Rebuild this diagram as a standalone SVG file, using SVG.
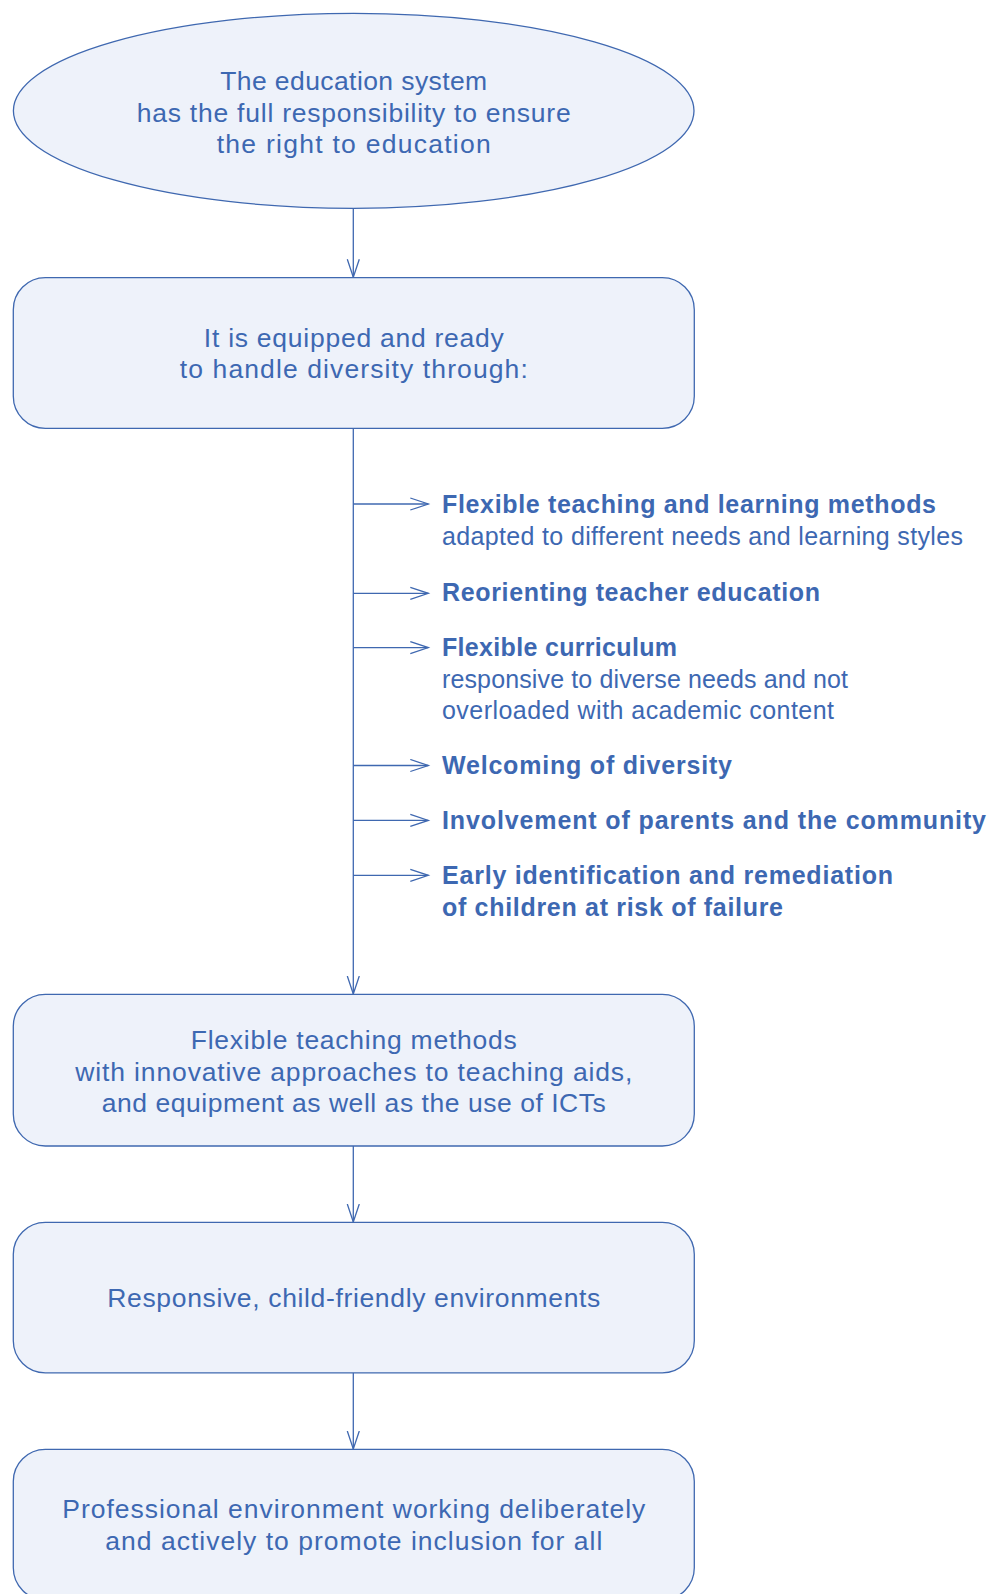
<svg xmlns="http://www.w3.org/2000/svg" width="991" height="1594" viewBox="0 0 991 1594">
<defs>
<style>
.node{fill:#eef2fa;stroke:#3f68b0;stroke-width:1.3}
.t{font-family:"Liberation Sans","Noto Sans",Arial,sans-serif;font-size:25px;fill:#3d68b2}
.c{text-anchor:middle;font-size:26.5px}
.b{font-weight:700}
.l{font-weight:300}
.conn{stroke:#3f68b0;stroke-width:1.3;fill:none}
</style>
<marker id="arr" markerUnits="userSpaceOnUse" markerWidth="22" markerHeight="16" refX="18" refY="7" orient="auto" viewBox="0 0 22 16">
<path d="M0,1 L18,7 L0,13" fill="none" stroke="#3f68b0" stroke-width="1.3"/>
</marker>
</defs>
<rect width="991" height="1594" fill="#ffffff"/>

<g id="connectors">
<line class="conn" x1="353.3" y1="208.3" x2="353.3" y2="277.3" marker-end="url(#arr)"/>
<line class="conn" x1="353.3" y1="428.3" x2="353.3" y2="994" marker-end="url(#arr)"/>
<line class="conn" x1="353.3" y1="1146" x2="353.3" y2="1222" marker-end="url(#arr)"/>
<line class="conn" x1="353.3" y1="1372.8" x2="353.3" y2="1449" marker-end="url(#arr)"/>
<line class="conn" x1="353.3" y1="504" x2="428.3" y2="504" marker-end="url(#arr)"/>
<line class="conn" x1="353.3" y1="593.3" x2="428.3" y2="593.3" marker-end="url(#arr)"/>
<line class="conn" x1="353.3" y1="647.6" x2="428.3" y2="647.6" marker-end="url(#arr)"/>
<line class="conn" x1="353.3" y1="765.5" x2="428.3" y2="765.5" marker-end="url(#arr)"/>
<line class="conn" x1="353.3" y1="820.4" x2="428.3" y2="820.4" marker-end="url(#arr)"/>
<line class="conn" x1="353.3" y1="875.3" x2="428.3" y2="875.3" marker-end="url(#arr)"/>
</g>

<g id="node-system">
<ellipse class="node" cx="353.7" cy="110.8" rx="340.3" ry="97.5"/>
<text class="t c" x="353.7" y="90" textLength="267">The education system</text>
<text class="t c" x="353.7" y="121.7" textLength="434">has the full responsibility to ensure</text>
<text class="t c" x="353.7" y="153.3" textLength="274">the right to education</text>
</g>

<g id="node-equipped">
<rect class="node" x="13.3" y="277.7" width="681" height="150.6" rx="32" ry="32"/>
<text class="t c" x="353.8" y="346.7" textLength="300">It is equipped and ready</text>
<text class="t c" x="353.8" y="378.3" textLength="348">to handle diversity through:</text>
</g>

<g id="node-list">
<text class="t b" x="442" y="513" textLength="494">Flexible teaching and learning methods</text>
<text class="t l" x="442" y="545" textLength="521">adapted to different needs and learning styles</text>
<text class="t b" x="442" y="601" textLength="378">Reorienting teacher education</text>
<text class="t b" x="442" y="656" textLength="235">Flexible curriculum</text>
<text class="t l" x="442" y="687.5" textLength="406">responsive to diverse needs and not</text>
<text class="t l" x="442" y="719" textLength="392">overloaded with academic content</text>
<text class="t b" x="442" y="774" textLength="290">Welcoming of diversity</text>
<text class="t b" x="442" y="829" textLength="544">Involvement of parents and the community</text>
<text class="t b" x="442" y="884" textLength="451">Early identification and remediation</text>
<text class="t b" x="442" y="915.7" textLength="341">of children at risk of failure</text>
</g>

<g id="node-methods">
<rect class="node" x="13.3" y="994.3" width="681" height="151.7" rx="32" ry="32"/>
<text class="t c" x="353.8" y="1049" textLength="326">Flexible teaching methods</text>
<text class="t c" x="353.8" y="1080.7" textLength="557">with innovative approaches to teaching aids,</text>
<text class="t c" x="353.8" y="1112.4" textLength="504">and equipment as well as the use of ICTs</text>
</g>

<g id="node-environments">
<rect class="node" x="13.3" y="1222.3" width="681" height="150.5" rx="32" ry="32"/>
<text class="t c" x="353.8" y="1306.7" textLength="493">Responsive, child-friendly environments</text>
</g>

<g id="node-professional">
<rect class="node" x="13.3" y="1449.3" width="681" height="150.5" rx="32" ry="32"/>
<text class="t c" x="353.8" y="1518.3" textLength="583">Professional environment working deliberately</text>
<text class="t c" x="353.8" y="1550" textLength="497">and actively to promote inclusion for all</text>
</g>
</svg>
